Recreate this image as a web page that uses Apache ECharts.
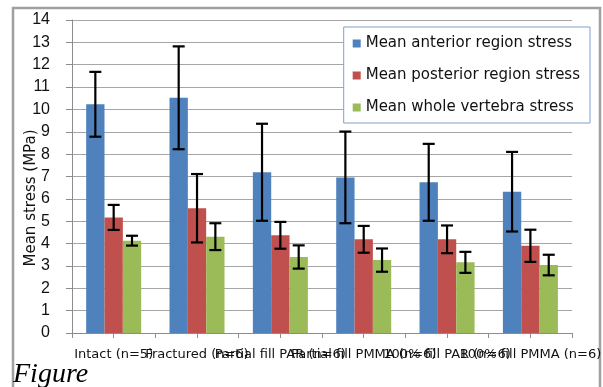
<!DOCTYPE html>
<html>
<head>
<meta charset="utf-8">
<script src="https://cdn.jsdelivr.net/npm/echarts@6/dist/echarts.min.js"></script>
<style>
html,body{margin:0;padding:0;background:#fff;}
#chart{width:603px;height:387px;}
</style>
</head>
<body>
<div id="chart"></div>
<script>
var categories = ["Intact (n=5)", "Fractured (n=6)", "Partial fill PAR (n=6)", "Partial fill PMMA (n=6)", "100% fill PAR (n=6)", "100% fill PMMA (n=6)"];
var seriesNames = ["Mean anterior region stress", "Mean posterior region stress", "Mean whole vertebra stress"];
var anterior = [10.23, 10.52, 7.19, 6.96, 6.74, 6.32];
var anteriorErr = [1.45, 2.30, 2.17, 2.05, 1.72, 1.78];
var posterior = [5.17, 5.58, 4.37, 4.19, 4.19, 3.90];
var posteriorErr = [0.56, 1.53, 0.60, 0.60, 0.62, 0.72];
var whole = [4.13, 4.31, 3.40, 3.26, 3.16, 3.04];
var wholeErr = [0.22, 0.60, 0.52, 0.52, 0.47, 0.46];
var yTicks = [0, 1, 2, 3, 4, 5, 6, 7, 8, 9, 10, 11, 12, 13, 14];

var colors = ["#4f81bd", "#c0504d", "#9bbb59"];
var values = [anterior, posterior, whole];
var errors = [anteriorErr, posteriorErr, wholeErr];
var gapRatio = 0.34;

var chart = echarts.init(document.getElementById('chart'));
var series = [];
values.forEach(function (vals, i) {
  series.push({
    name: seriesNames[i],
    type: 'bar',
    data: vals,
    barGap: '0%',
    barCategoryGap: (gapRatio * 100) + '%',
    itemStyle: { color: colors[i] }
  });
});
values.forEach(function (vals, i) {
  var data = vals.map(function (v, k) { return [k, v - errors[i][k], v + errors[i][k]]; });
  series.push({
    type: 'custom',
    name: 'err' + i,
    data: data,
    z: 10,
    renderItem: function (params, api) {
      var k = api.value(0);
      var lo = api.coord([k, api.value(1)]);
      var hi = api.coord([k, api.value(2)]);
      var catW = api.size([1, 0])[0];
      var bw = catW * (1 - gapRatio) / 3;
      var x = lo[0] + (i - 1) * bw;
      var cap = 6;
      var st = { stroke: '#000', lineWidth: 2.2 };
      return {
        type: 'group',
        children: [
          { type: 'line', shape: { x1: x, y1: hi[1], x2: x, y2: lo[1] }, style: st },
          { type: 'line', shape: { x1: x - cap, y1: hi[1], x2: x + cap, y2: hi[1] }, style: st },
          { type: 'line', shape: { x1: x - cap, y1: lo[1], x2: x + cap, y2: lo[1] }, style: st }
        ]
      };
    }
  });
});

var halfCats = [];
categories.forEach(function (c) { halfCats.push(''); halfCats.push(''); });

chart.setOption({
  animation: false,
  backgroundColor: '#fff',
  grid: { left: 72, right: 16, top: 20, bottom: 54 },
  legend: {
    data: seriesNames,
    orient: 'vertical',
    right: 13,
    top: 27,
    padding: [8, 10, 7, 9],
    itemGap: 15,
    itemWidth: 8,
    itemHeight: 8,
    icon: 'rect',
    backgroundColor: '#fff',
    borderColor: '#7f9fcf',
    borderWidth: 1,
    textStyle: { fontFamily: 'DejaVu Sans', fontSize: 15, lineHeight: 17, color: '#111' }
  },
  xAxis: [{
    type: 'category',
    data: categories,
    axisLine: { show: true, lineStyle: { color: '#8c8c8c', width: 1 } },
    axisTick: { show: false },
    axisLabel: {
      interval: 0,
      margin: 15,
      fontFamily: 'DejaVu Sans',
      fontSize: 13,
      color: '#111'
    },
    splitLine: { show: false }
  }, {
    type: 'category',
    data: halfCats,
    position: 'bottom',
    axisLine: { show: false },
    axisTick: { show: true, length: 5, lineStyle: { color: '#8c8c8c' } },
    axisLabel: { show: false }
  }],
  yAxis: {
    type: 'value',
    min: yTicks[0],
    max: yTicks[yTicks.length - 1],
    interval: 1,
    axisLine: { show: true, lineStyle: { color: '#8c8c8c' } },
    axisTick: { show: true, length: 6, lineStyle: { color: '#8c8c8c' } },
    axisLabel: { margin: 22, fontFamily: 'Liberation Sans', fontSize: 16, color: '#111' },
    splitLine: { show: true, lineStyle: { color: '#a6a6a6', width: 1 } }
  },
  graphic: [
    {
      type: 'rect',
      shape: { x: 13, y: 8, width: 587, height: 400 },
      style: { fill: 'none', stroke: '#a0a0a0', lineWidth: 2.5 },
      silent: true, z: -1
    },
    {
      type: 'text',
      x: 31, y: 198,
      rotation: Math.PI / 2,
      style: {
        text: 'Mean stress (MPa)',
        fontFamily: 'DejaVu Sans',
        fontSize: 15,
        fill: '#111',
        textAlign: 'center',
        textVerticalAlign: 'middle'
      }
    },
    {
      type: 'text',
      x: 13, y: 361,
      style: {
        text: 'Figure',
        fontFamily: 'Liberation Serif',
        fontStyle: 'italic',
        fontSize: 28,
        fill: '#000'
      },
      z: 100
    }
  ],
  series: series
});
</script>
</body>
</html>
